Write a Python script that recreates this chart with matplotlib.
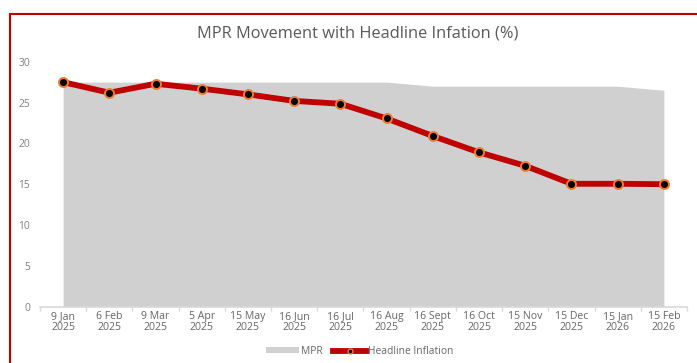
import matplotlib
matplotlib.use("Agg")
import matplotlib.pyplot as plt
from matplotlib.patches import Rectangle, Patch
from matplotlib.lines import Line2D

plt.rcParams['font.family'] = ['Open Sans', 'DejaVu Sans']

categories = ["9 Jan\n2025", "6 Feb\n2025", "9 Mar\n2025", "5 Apr\n2025", "15 May\n2025",
              "16 Jun\n2025", "16 Jul\n2025", "16 Aug\n2025", "16 Sept\n2025", "16 Oct\n2025",
              "15 Nov\n2025", "15 Dec\n2025", "15 Jan\n2026", "15 Feb\n2026"]
mpr = [27.5, 27.5, 27.5, 27.5, 27.5, 27.5, 27.5, 27.5, 27.0, 27.0, 27.0, 27.0, 27.0, 26.5]
inflation = [27.5, 26.2, 27.3, 26.7, 26.0, 25.2, 24.85, 23.05, 20.9, 18.9, 17.25, 15.05, 15.05, 15.0]
yticks = [0, 5, 10, 15, 20, 25, 30]

W, H = 697, 363
fig = plt.figure(figsize=(W / 100, H / 100), dpi=100)
ax = fig.add_axes([40 / W, 1 - 306.7 / H, (687 - 40) / W, (306.7 - 61.7) / H])

x = list(range(len(categories)))
ax.fill_between(x, 0, mpr, color='#d0d0d0', linewidth=0, zorder=1)
ax.plot(x, inflation, color='#c00000', linewidth=4.2, zorder=3,
        marker='o', markersize=6.5, markerfacecolor='black',
        markeredgecolor='#ed7d31', markeredgewidth=1.4, clip_on=False)

ax.set_xlim(-0.5, len(categories) - 0.5)
ax.set_ylim(0, 30)
ax.set_yticks(yticks)
ax.set_xticks(x)
ax.set_xticklabels(categories, fontsize=7.6, color='#666666', linespacing=1.05)
ax.set_xticks([i - 0.5 for i in range(len(categories) + 1)], minor=True)
ax.tick_params(axis='x', which='major', length=0, pad=3)
ax.tick_params(axis='x', which='minor', length=3, color='#d9d9d9', width=1)
ax.tick_params(axis='y', length=0, labelsize=7.4, labelcolor='#7f7f7f', pad=7)
for s in ['top', 'right', 'left']:
    ax.spines[s].set_visible(False)
ax.spines['bottom'].set_color('#d9d9d9')
ax.spines['bottom'].set_linewidth(1.2)

fig.text(358 / W, 1 - 33.5 / H, "MPR Movement with Headline Infation (%)", ha='center', va='center',
         fontsize=11.8, color='#595959')

handles = [Patch(facecolor='#d0d0d0', edgecolor='none', label='MPR'),
           Line2D([0], [0], color='#c00000', linewidth=4.2, marker='o', markersize=3.5,
                  markerfacecolor='black', markeredgecolor='#ed7d31', markeredgewidth=1,
                  label='Headline Inflation')]
fig.legend(handles=handles, loc='center', bbox_to_anchor=(360 / W, 1 - 351.5 / H), ncol=2,
           frameon=False, fontsize=7.4, labelcolor='#666666', handlelength=3.2, handleheight=0.5,
           handletextpad=0.2, columnspacing=1.0)

fig.patches.append(Rectangle((10 / W, -0.05), 1.0, 1 - 14 / H + 0.05, transform=fig.transFigure,
                             fill=False, edgecolor='#c00000', linewidth=1.5, zorder=0))

fig.savefig('out.png', dpi=100)
